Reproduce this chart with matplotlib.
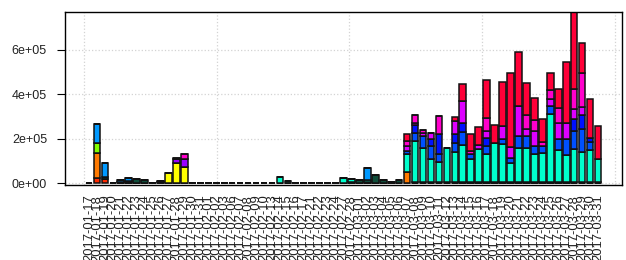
import numpy as np
import pandas as pd
import matplotlib
matplotlib.use("Agg")
import matplotlib.pyplot as plt
from matplotlib.ticker import FuncFormatter

plt.rcParams["font.family"] = ["Liberation Sans", "DejaVu Sans"]

# Dates shown on the x axis (days without data are not shown)
missing_days = ["2017-02-04", "2017-02-05", "2017-02-11", "2017-02-12", "2017-02-18",
                "2017-02-19", "2017-02-20", "2017-02-25", "2017-02-26"]
dates = [d.strftime("%Y-%m-%d") for d in pd.date_range("2017-01-17", "2017-03-31")
         if d.strftime("%Y-%m-%d") not in missing_days]

# Stacked values per series, in thousands (bottom to top)
red = [0, 25, 18, 0, 0, 0, 0, 0, 0, 0,
       0, 0, 0, 0, 0, 0, 0, 0, 0, 0,
       0, 0, 0, 0, 0, 0, 0, 0, 0, 0,
       0, 0, 0, 0, 0, 0, 0, 0, 0, 0,
       0, 0, 0, 0, 0, 0, 0, 0, 0, 0,
       0, 0, 0, 0, 0, 0, 0, 0, 0, 0,
       0, 0, 0, 0, 0]
orange = [0, 113, 0, 0, 0, 0, 0, 0, 0, 0,
          0, 0, 0, 0, 0, 0, 0, 0, 0, 0,
          0, 0, 0, 0, 0, 0, 0, 0, 0, 0,
          0, 0, 0, 0, 0, 0, 0, 0, 0, 0,
          52, 0, 0, 0, 0, 0, 0, 0, 0, 0,
          0, 0, 0, 0, 0, 0, 0, 0, 0, 0,
          0, 0, 0, 0, 0]
yellow = [0, 0, 0, 0, 0, 0, 0, 0, 0, 4,
          46, 90, 75, 0, 0, 0, 0, 0, 0, 0,
          0, 0, 0, 0, 0, 0, 0, 0, 0, 0,
          0, 0, 0, 0, 0, 0, 0, 0, 0, 0,
          0, 0, 0, 0, 0, 0, 0, 0, 0, 0,
          0, 0, 0, 0, 0, 0, 0, 0, 0, 0,
          0, 0, 0, 0, 0]
lime = [0, 45, 0, 0, 0, 6, 0, 0, 0, 0,
        0, 0, 0, 0, 0, 0, 0, 0, 0, 0,
        0, 0, 0, 0, 0, 0, 0, 0, 0, 0,
        0, 0, 0, 0, 0, 0, 0, 0, 0, 0,
        0, 0, 0, 0, 0, 0, 0, 0, 0, 0,
        0, 0, 0, 0, 0, 0, 0, 0, 0, 0,
        0, 0, 0, 0, 0]
dark = [3, 0, 12, 2, 4, 4, 18, 13, 3, 6,
        2, 0, 0, 3, 2, 2, 2, 2, 2, 2,
        2, 2, 2, 2, 3, 10, 2, 2, 2, 2,
        2, 2, 3, 8, 13, 5, 36, 16, 6, 16,
        0, 6, 6, 5, 5, 5, 5, 5, 5, 5,
        6, 6, 6, 6, 6, 6, 6, 6, 6, 6,
        6, 6, 6, 6, 6]
teal = [0, 0, 0, 0, 0, 0, 0, 0, 0, 0,
        0, 0, 0, 0, 0, 0, 0, 0, 0, 0,
        0, 0, 0, 0, 27, 0, 0, 0, 0, 0,
        0, 0, 22, 10, 0, 11, 0, 0, 0, 0,
        78, 184, 154, 103, 91, 152, 136, 166, 106, 148,
        124, 174, 169, 87, 151, 151, 127, 129, 304, 144,
        120, 147, 135, 144, 105]
sky = [0, 85, 63, 0, 9, 12, 0, 0, 0, 0,
       0, 0, 0, 0, 0, 0, 0, 0, 0, 0,
       0, 0, 0, 0, 0, 0, 0, 0, 0, 0,
       0, 0, 0, 0, 0, 54, 0, 0, 0, 0,
       0, 0, 0, 0, 0, 0, 0, 0, 0, 0,
       0, 0, 0, 0, 0, 0, 0, 0, 0, 0,
       0, 0, 0, 0, 0]
blue = [0, 0, 0, 0, 0, 0, 0, 0, 0, 0,
        0, 0, 0, 0, 0, 0, 0, 0, 0, 0,
        0, 0, 0, 0, 0, 0, 0, 0, 0, 0,
        0, 0, 0, 0, 0, 0, 0, 0, 0, 0,
        15, 36, 53, 60, 34, 0, 39, 61, 19, 0,
        38, 0, 23, 22, 56, 56, 35, 33, 37, 48,
        72, 82, 102, 36, 0]
blue2 = [0, 0, 0, 0, 0, 0, 0, 0, 0, 0,
         0, 0, 0, 0, 0, 0, 0, 0, 0, 0,
         0, 0, 0, 0, 0, 0, 0, 0, 0, 0,
         0, 0, 0, 0, 0, 0, 0, 0, 0, 0,
         0, 34, 0, 30, 93, 0, 40, 38, 0, 0,
         37, 0, 0, 0, 0, 0, 0, 0, 0, 0,
         0, 53, 63, 19, 0]
purple = [0, 0, 0, 0, 0, 0, 0, 0, 0, 0,
          0, 21, 36, 0, 0, 0, 0, 0, 0, 0,
          0, 0, 0, 0, 0, 0, 0, 0, 0, 0,
          0, 0, 0, 0, 0, 0, 0, 0, 0, 0,
          0, 0, 0, 0, 0, 0, 0, 0, 0, 0,
          0, 0, 0, 0, 0, 0, 0, 0, 0, 0,
          0, 0, 0, 0, 0]
magenta = [0, 0, 0, 0, 0, 0, 0, 0, 0, 0,
           0, 0, 0, 0, 0, 0, 0, 0, 0, 0,
           0, 0, 0, 0, 0, 0, 0, 0, 0, 0,
           0, 0, 0, 0, 0, 0, 0, 0, 0, 0,
           23, 10, 12, 30, 0, 0, 60, 100, 0, 18,
           30, 0, 60, 48, 134, 33, 67, 0, 33, 72,
           75, 48, 39, 0, 0]
pink = [0, 0, 0, 0, 0, 0, 0, 0, 0, 0,
        0, 4, 22, 0, 0, 0, 0, 0, 0, 0,
        0, 0, 0, 0, 0, 0, 0, 0, 0, 0,
        0, 0, 0, 0, 0, 0, 0, 0, 0, 0,
        22, 37, 15, 0, 80, 0, 0, 0, 15, 0,
        60, 0, 0, 0, 0, 61, 48, 18, 39, 70,
        0, 86, 149, 0, 0]
crimson = [0, 0, 0, 0, 0, 0, 0, 0, 0, 0,
           0, 0, 0, 0, 0, 0, 0, 0, 0, 0,
           0, 0, 0, 0, 0, 0, 0, 0, 0, 0,
           0, 0, 0, 0, 0, 0, 0, 0, 0, 0,
           33, 0, 0, 0, 0, 0, 20, 75, 75, 84,
           169, 81, 197, 331, 245, 142, 102, 102, 78, 85,
           274, 348, 138, 175, 147]

series = [red, orange, yellow, lime, dark, teal, sky, blue, blue2,
          purple, magenta, pink, crimson]
colors = ["#FF2A00", "#FF7A00", "#FFFF00", "#80FF00", "#0F4D3A", "#00FFCC",
          "#0099FF", "#0050FF", "#0010FF", "#9900FF", "#DD00FF", "#FF00CC", "#FF0038"]

# R barplot style layout: width 1, space 0.2
n = len(dates)
x = 0.7 + 1.2 * np.arange(n)

fig = plt.figure(figsize=(6.26, 2.6), dpi=100)
ax = fig.add_axes([65 / 626, 1 - 185 / 260, 557 / 626, 173 / 260])

bottom = np.zeros(n)
for vals, col in zip(series, colors):
    h = np.array(vals) * 1000.0
    ax.bar(x, h, width=1.0, bottom=bottom, color=col, edgecolor="#111111",
           linewidth=1.1, zorder=2)
    bottom += h

top = bottom.max()
ax.set_xlim(x[0] - 0.5 - 0.04 * 78, x[-1] + 0.5 + 0.04 * 78)
ax.set_ylim(-0.01 * top, top)

# x labels
ax.set_xticks(x)
ax.set_xticklabels(dates, rotation=90, fontsize=9.4, color="#222222")
ax.tick_params(axis="x", length=0, pad=7)

# grid like R grid()
ax.set_xticks([0, 20, 40, 60, 80], minor=True)
ax.tick_params(axis="x", which="minor", length=0)
ax.grid(True, which="minor", axis="x", color="lightgray", linestyle=":", linewidth=0.9)
ax.set_yticks([0, 200000, 400000, 600000])
ax.yaxis.set_major_formatter(FuncFormatter(lambda v, p: f"{v:.0e}"))
ax.grid(True, which="major", axis="y", color="lightgray", linestyle=":", linewidth=0.9)
ax.set_axisbelow(True)
ax.tick_params(axis="y", direction="out", length=5.5, width=0.8, pad=7.5,
               labelsize=9, labelcolor="#222222")

for s in ax.spines.values():
    s.set_linewidth(1.0)
    s.set_color("black")

fig.savefig("out.png", dpi=100)
